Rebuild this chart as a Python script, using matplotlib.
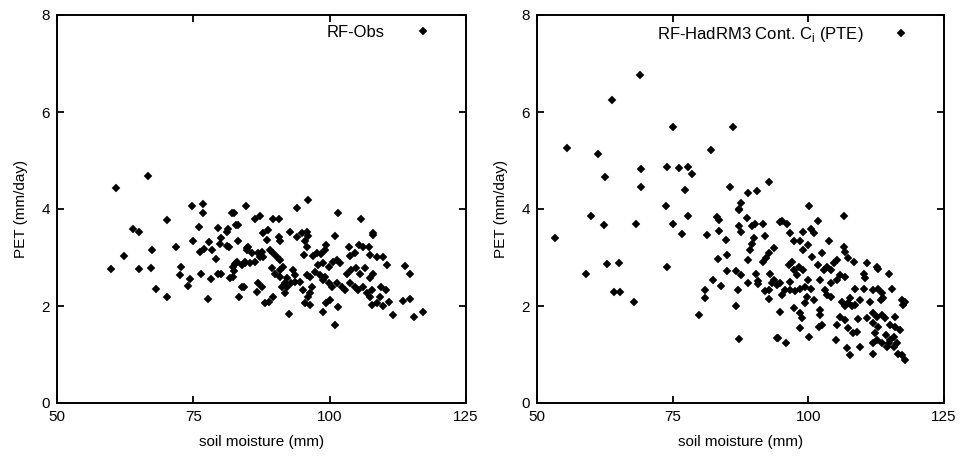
import matplotlib
matplotlib.use("Agg")
import matplotlib.pyplot as plt
import numpy as np

# left panel: RF-Obs (soil moisture mm, PET mm/day)
obs_sm = [60.9, 66.6, 59.9, 62.3, 64.0, 65.1, 65.0, 67.2, 67.4, 68.2, 70.1, 70.2, 71.8,
          72.8, 72.6, 74.3, 74.1, 74.8, 76.7, 76.7, 76.0, 74.9, 76.4, 77.6, 78.3, 76.2,
          77.0, 77.9, 78.4, 79.2, 79.6, 80.1, 79.6, 80.0, 79.9, 81.1, 81.4, 81.1, 81.6,
          82.0, 82.5, 82.8, 83.2, 83.1, 84.7, 84.8, 81.7, 82.2, 82.4, 82.6, 83.0, 83.9,
          84.4, 83.9, 84.2, 83.4,
          86.3, 87.2, 89.7, 90.8, 94.0, 96.0, 101.5, 105.7, 107.9, 107.9, 100.9, 87.8,
          88.7, 88.5, 90.8, 90.9, 92.7, 94.0, 94.9, 95.8, 96.1, 95.5, 95.8, 95.3, 99.4,
          99.1, 98.5, 97.0, 97.7, 103.6, 105.3, 106.2, 107.3, 103.7, 104.6, 107.4, 108.6,
          109.7, 110.6, 113.8, 114.8, 113.4, 114.7, 111.7, 115.5, 117.2, 101.0, 92.5,
          98.7, 101.6, 99.4, 100.0, 95.5, 96.4, 96.1, 95.1, 96.7, 96.4, 94.6, 93.6, 92.9,
          91.8, 92.1, 91.8, 89.7, 88.8, 88.1, 91.2, 90.9, 86.9, 87.5, 86.6, 82.3, 82.9,
          84.5, 85.4, 86.3, 87.2, 87.5, 87.8, 85.1, 84.8, 85.7, 86.9, 89.1, 89.7, 90.3,
          90.9, 89.4, 90.0, 90.9, 91.5, 93.3, 93.6, 92.1, 95.8, 96.4, 97.3, 98.2, 98.8,
          99.1, 97.9, 98.8, 99.8, 100.7, 101.3, 101.9, 99.8, 100.4, 101.3, 102.2, 102.8,
          103.1, 104.0, 104.8, 105.6, 106.5, 103.7, 104.6, 105.2, 106.2, 106.8, 107.7,
          107.4, 107.7, 108.6, 109.2, 109.5, 110.4, 109.8, 110.8, 107.4, 108.0]
obs_pet = [4.44, 4.69, 2.76, 3.04, 3.59, 3.53, 2.76, 2.78, 3.15, 2.36, 3.77, 2.19, 3.22,
           2.80, 2.64, 2.55, 2.42, 4.06, 4.10, 3.92, 3.62, 3.35, 2.67, 2.14, 2.56, 3.12,
           3.18, 3.31, 3.15, 2.96, 2.66, 2.67, 3.61, 3.40, 3.28, 3.53, 3.58, 3.24, 3.22,
           3.91, 3.91, 3.67, 3.67, 3.34, 4.06, 3.19, 2.57, 2.60, 2.73, 2.87, 2.91, 2.85,
           2.89, 2.40, 2.39, 2.19,
           3.79, 3.86, 3.79, 3.79, 4.03, 4.19, 3.92, 3.79, 3.50, 3.47, 3.44, 3.50,
           3.57, 3.37, 3.42, 3.33, 3.52, 3.42, 3.50, 3.53, 3.45, 3.33, 3.22, 3.05, 3.26,
           3.15, 3.07, 3.03, 3.10, 3.22, 3.26, 3.22, 3.22, 3.03, 3.09, 3.05, 3.02,
           3.02, 2.85, 2.82, 2.65, 2.11, 2.14, 1.81, 1.78, 1.87, 1.61, 1.84,
           1.88, 1.97, 2.06, 2.12, 2.06, 2.02, 2.19, 2.33, 2.40, 2.26, 2.50, 2.50, 2.47,
           2.47, 2.39, 2.26, 2.19, 2.09, 2.07, 2.40, 2.60, 2.47, 2.40, 2.29, 2.81, 2.88,
           2.91, 2.88, 2.91, 3.02, 3.12, 3.02, 3.22, 3.15, 3.09, 3.09, 3.15, 3.09, 3.02,
           2.95, 2.78, 2.67, 2.74, 2.81, 2.74, 2.64, 2.57, 2.64, 2.60, 2.71, 2.64, 2.54,
           2.60, 2.85, 2.88, 2.81, 2.91, 2.95, 2.88, 2.47, 2.40, 2.47, 2.40, 2.33,
           2.67, 2.74, 2.78, 2.67, 2.78, 2.47, 2.40, 2.33, 2.40, 2.26, 2.33,
           2.19, 2.02, 2.06, 2.19, 2.40, 2.33, 1.99, 2.09, 2.57, 2.67]

# right panel: RF-HadRM3 Cont. Ci (PTE)
mod_sm = [53.3, 55.5, 59.0, 59.9, 61.2, 62.6, 62.4, 62.9, 63.8, 65.2, 64.2, 65.3, 67.8,
          68.3, 68.9, 69.1, 69.1, 73.7, 73.9, 73.9, 75.0, 75.1, 76.2, 76.7, 77.3, 77.8,
          78.5, 77.8, 79.9, 81.0, 81.0, 81.3, 82.1, 82.5, 83.2, 83.6, 83.6, 83.3, 83.9,
          84.8, 85.0, 85.0, 85.5, 86.2, 86.7, 86.7, 87.2, 87.0, 87.2, 87.2,
          92.7, 88.9, 90.5, 87.6, 87.3, 88.7, 87.6, 89.6, 90.2, 91.7, 92.1, 89.9, 89.6,
          89.3, 88.8, 93.6, 92.7, 92.2, 91.6, 87.6, 88.8, 90.4, 90.8, 92.7, 93.3, 94.2,
          92.7, 92.1, 94.3, 94.7,
          100.2, 106.5, 95.1, 96.0, 101.8, 96.7, 99.1, 100.4, 101.0, 97.3, 98.5, 99.1,
          100.0, 100.6, 103.9, 106.5, 106.8, 107.4, 90.8, 93.0, 93.6, 94.8, 95.1, 95.7,
          96.7, 97.6, 98.5, 99.4, 96.4, 97.0, 97.3, 98.2, 99.1, 97.9, 96.7, 100.0, 100.4,
          101.0, 99.8, 99.4, 97.3, 98.5, 98.8, 98.4, 94.8, 94.5, 95.9, 100.2, 101.8,
          102.8, 103.4, 104.1, 104.7, 105.3, 102.5, 102.2, 103.1, 103.4, 104.1, 104.1,
          105.3, 105.9, 106.8, 102.2, 102.1, 102.5, 101.9, 105.2, 105.1, 106.2, 106.8,
          107.4, 108.0, 108.6, 107.7, 105.9, 106.8, 107.4, 108.3, 108.9, 107.1, 107.7,
          108.5, 108.6, 109.1, 109.6, 110.2, 110.8, 112.6, 112.9, 114.8, 110.2, 110.5,
          109.6, 111.4, 110.8, 112.0, 112.9, 113.5, 113.8, 115.4, 113.3, 112.0, 112.6,
          113.6, 112.0, 112.9, 112.3, 112.6, 112.0, 111.9, 114.4, 115.1, 114.8, 115.7,
          116.3, 116.6, 117.2, 117.8, 116.0, 116.9, 115.9, 117.2, 117.8, 117.5, 114.5,
          113.6, 114.2, 115.7, 115.1]
mod_pet = [3.41, 5.25, 2.65, 3.86, 5.13, 4.65, 3.68, 2.86, 6.25, 2.89, 2.28, 2.28, 2.08,
           3.70, 6.76, 4.82, 4.45, 4.06, 4.87, 2.80, 3.69, 5.69, 4.84, 3.48, 4.39, 4.87,
           4.73, 3.85, 1.81, 2.33, 2.17, 3.46, 5.21, 2.54, 3.84, 3.77, 3.55, 2.96, 2.41,
           3.37, 3.05, 2.72, 4.46, 5.69, 2.73, 2.01, 1.32, 2.33, 4.00, 3.64,
           4.55, 4.32, 4.37, 4.12, 3.98, 3.81, 3.53, 3.64, 3.69, 3.70, 3.45, 3.40, 3.28,
           3.15, 2.95, 3.20, 3.09, 3.00, 2.91, 2.63, 2.47, 2.65, 2.45, 2.14, 2.47, 2.43,
           2.33, 2.30, 1.33, 3.74,
           4.07, 3.86, 3.76, 3.70, 3.75, 3.51, 3.52, 3.58, 3.50, 3.33, 3.33, 3.15,
           3.26, 3.02, 3.35, 3.22, 3.12, 2.98, 2.51, 2.67, 2.54, 2.47, 2.23, 2.33,
           2.33, 2.30, 2.36, 2.40, 2.85, 2.91, 2.74, 2.81, 2.74, 2.64, 2.50, 2.54, 2.36,
           2.12, 2.19, 2.06, 1.95, 1.85, 1.75, 1.55, 1.87, 1.35, 1.24, 1.37, 2.85,
           2.74, 2.81, 2.74, 2.88, 2.95, 3.09, 2.54, 2.33, 2.23, 2.19, 2.47,
           2.54, 2.64, 2.60, 1.92, 1.81, 1.61, 1.57, 1.61, 1.30, 2.09, 1.99,
           2.06, 1.99, 2.02, 2.16, 1.78, 1.71, 1.54, 1.44, 1.47, 1.13, 0.99,
           2.91, 2.36, 1.73, 1.16, 2.36, 2.88, 2.81, 2.76, 2.67, 2.67, 2.57,
           2.12, 2.09, 1.75, 2.33, 2.36, 2.26, 2.16, 2.36, 2.12, 1.85, 1.78,
           1.81, 1.64, 1.57, 1.44, 1.30, 1.23, 1.02, 1.40, 1.30, 1.23, 1.16,
           1.23, 1.02, 0.99, 0.89, 1.57, 1.50, 1.77, 2.12, 2.09, 2.02, 1.16,
           1.23, 1.75, 1.37, 1.61]

panels = [
    (obs_sm, obs_pet, "RF-Obs"),
    (mod_sm, mod_pet, r"RF-HadRM3 Cont. C$_\mathregular{i}$ (PTE)"),
]
x_ticks = [50, 75, 100, 125]
y_ticks = [0, 2, 4, 6, 8]

plt.rcParams["font.family"] = ["Liberation Sans", "DejaVu Sans"]
plt.rcParams["font.size"] = 11

fig = plt.figure(figsize=(9.61, 4.57), dpi=100)
rects = [[57 / 961, 54 / 457, 409 / 961, 388 / 457],
         [537 / 961, 54 / 457, 407 / 961, 388 / 457]]

for rect, (sm, pet, name) in zip(rects, panels):
    ax = fig.add_axes(rect)
    ax.plot(sm, pet, linestyle="none", marker="D", markersize=3.6,
            color="black", markeredgewidth=0.3, label=name)
    ax.set_xlim(50, 125)
    ax.set_ylim(0, 8)
    ax.set_xticks(x_ticks)
    ax.set_yticks(y_ticks)
    ax.tick_params(direction="in", length=5, width=1.3, top=True, right=True,
                   labelsize=11, pad=5)
    for s in ax.spines.values():
        s.set_linewidth(1.4)
    ax.set_xlabel("soil moisture (mm)", fontsize=11, labelpad=8)
    ax.set_ylabel("PET (mm/day)", fontsize=11, labelpad=10)
    ax.legend(loc="upper right", bbox_to_anchor=(1.01, 1.03), markerfirst=False,
              frameon=False, handlelength=3, handletextpad=0.8,
              borderaxespad=0.9, fontsize=12)

fig.savefig("out.png", dpi=100)
plt.close(fig)
